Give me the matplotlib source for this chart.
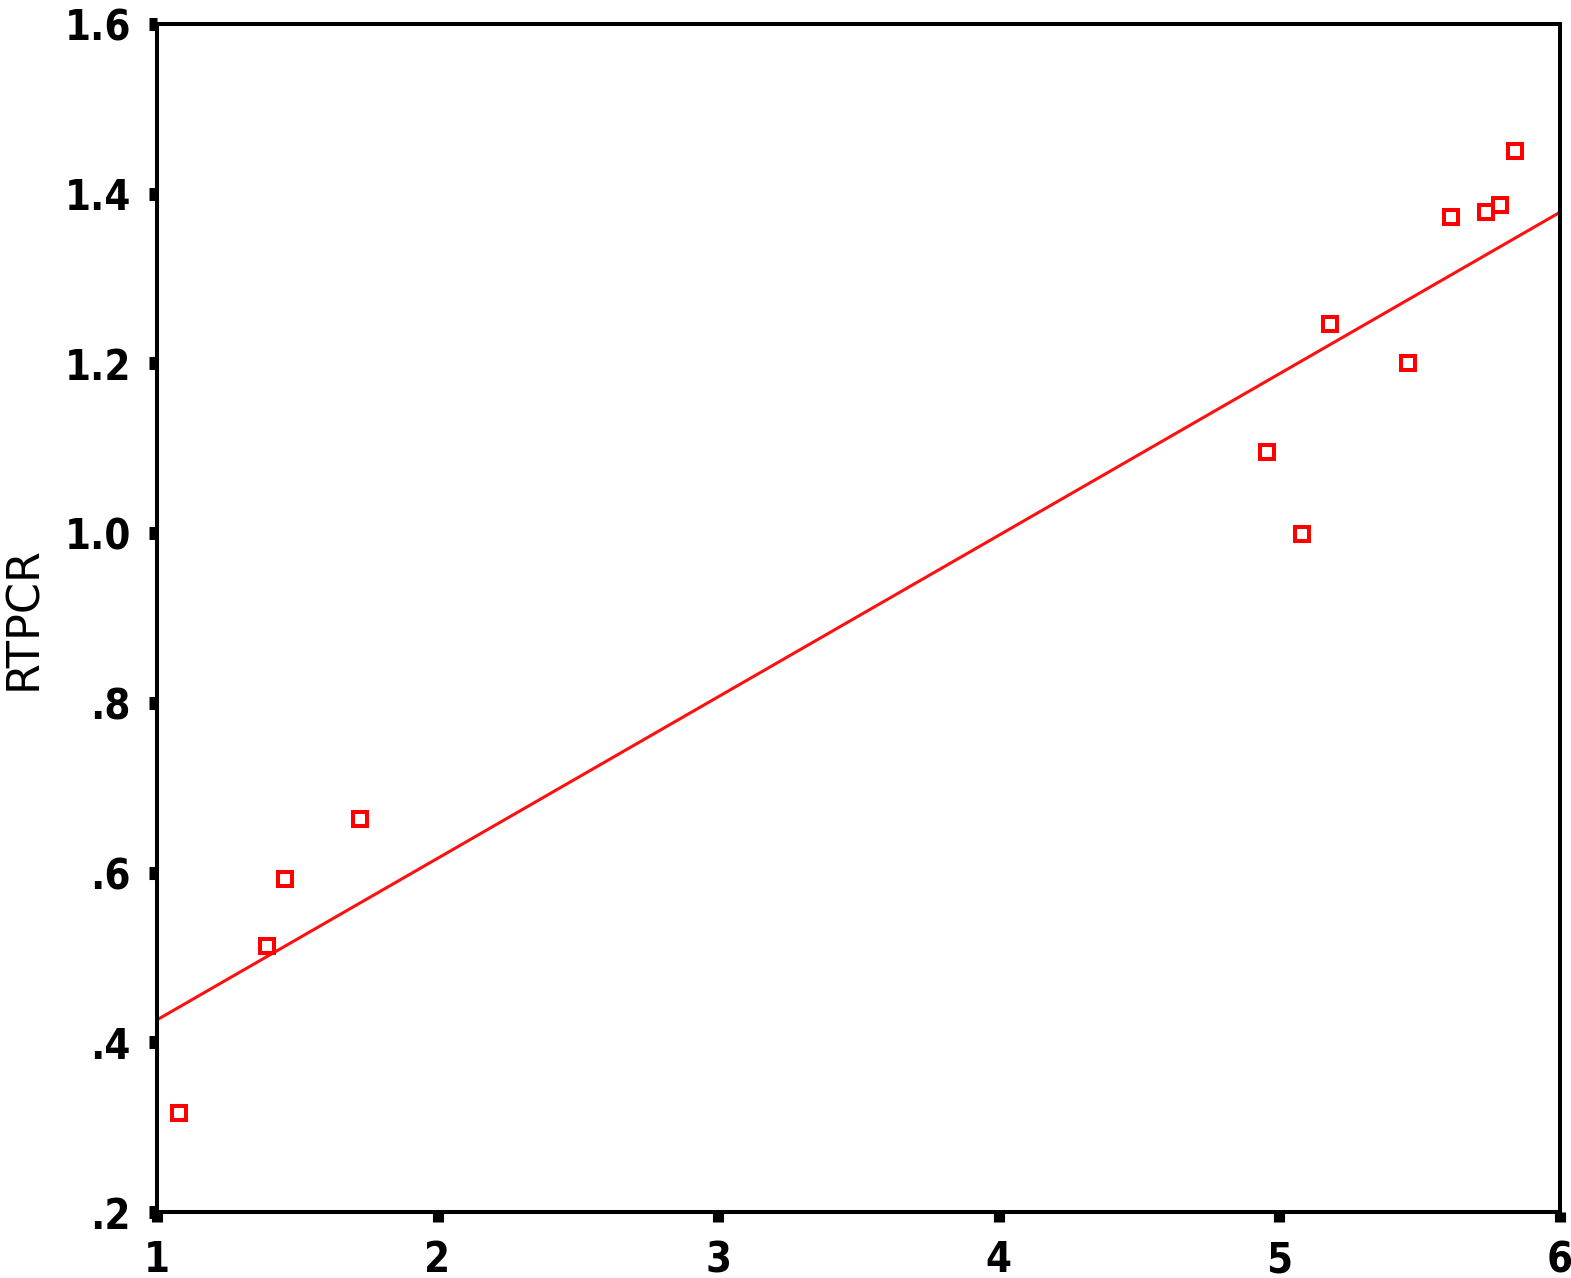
import numpy as np
import matplotlib
matplotlib.use("Agg")
import matplotlib.pyplot as plt
from matplotlib import font_manager

# values (x = predictor, y = RTPCR)
x_vals = [1.078, 1.392, 1.456, 1.723, 4.956, 5.080, 5.180, 5.458, 5.612, 5.736, 5.786, 5.840]
rtpcr = [0.317, 0.514, 0.592, 0.663, 1.096, 0.999, 1.246, 1.201, 1.373, 1.379, 1.387, 1.450]

x_ticks = [1, 2, 3, 4, 5, 6]
y_ticks = [0.2, 0.4, 0.6, 0.8, 1.0, 1.2, 1.4, 1.6]
y_tick_labels = [".2", ".4", ".6", ".8", "1.0", "1.2", "1.4", "1.6"]

# narrow bold font for the tick numbers, if the condensed DejaVu file is there
cond = [f.fname for f in font_manager.fontManager.ttflist
        if f.fname.endswith("DejaVuSansCondensed-Bold.ttf")]
if cond:
    tick_prop = font_manager.FontProperties(fname=cond[0], size=30)
else:
    tick_prop = font_manager.FontProperties(family="DejaVu Sans", weight="bold", size=27)

fig = plt.figure(figsize=(15.71, 12.78), dpi=100)
ax = fig.add_axes([0.0999, 0.0516, 0.8931, 0.9296])

# linear fit line across full x range
slope, intercept = np.polyfit(x_vals, rtpcr, 1)
xx = np.array([1, 6])
ax.plot(xx, intercept + slope * xx, color="#ff1010", lw=2.2, zorder=2)

ax.plot(x_vals, rtpcr, linestyle="none", marker="s", ms=9.4, mew=2.9,
        mec="#ff0000", mfc="none", zorder=3)

ax.set_xlim(1, 6)
ax.set_ylim(0.2, 1.6)
ax.set_xticks(x_ticks)
ax.set_xticklabels([str(t) for t in x_ticks])
ax.set_yticks(y_ticks)
ax.set_yticklabels(y_tick_labels)

for sp in ax.spines.values():
    sp.set_linewidth(2.9)
    sp.set_color("black")

ax.tick_params(axis="y", direction="out", length=5.8, width=9.4, pad=13)
ax.tick_params(axis="x", direction="out", length=7.5, width=8, pad=12)
for lab in ax.get_xticklabels() + ax.get_yticklabels():
    lab.set_fontproperties(tick_prop)

ax.set_ylabel("RTPCR", fontsize=32, family="DejaVu Sans")
ax.yaxis.set_label_coords(-0.080, 0.5)

fig.savefig("out.png", dpi=100)
